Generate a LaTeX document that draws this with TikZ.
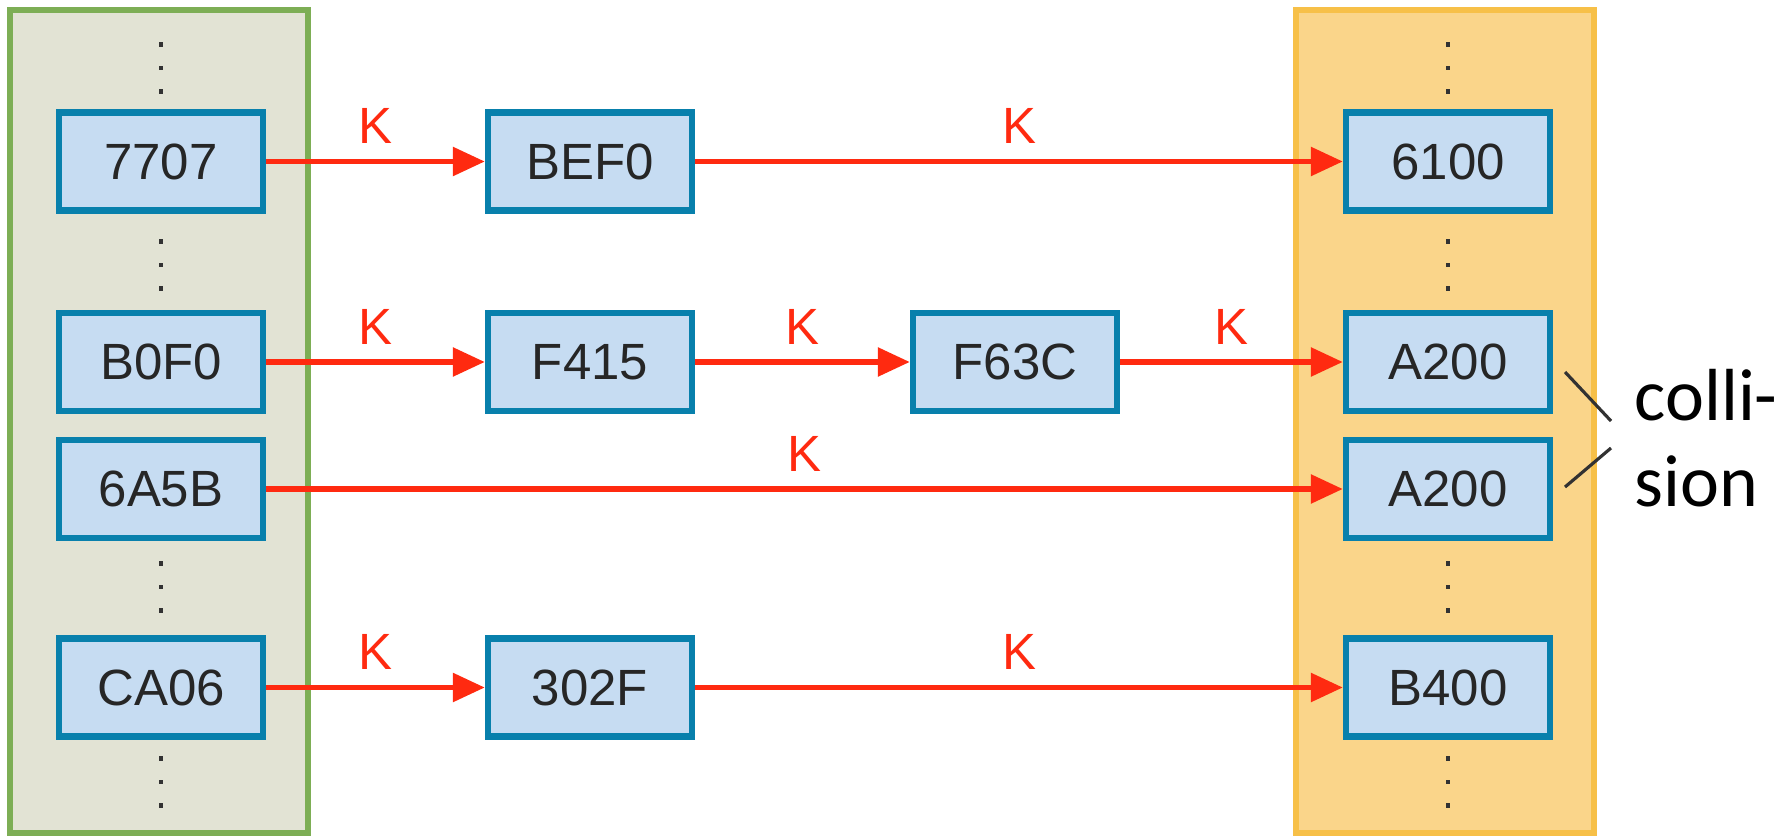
\documentclass[tikz,border=0pt]{standalone}
\usepackage{fontspec}
\setmainfont{Liberation Sans}
\newfontfamily\notefont{Carlito}
\usetikzlibrary{positioning, arrows.meta}
\definecolor{slotfill}{RGB}{198,220,242}
\definecolor{slotedge}{RGB}{8,128,172}
\definecolor{srcfill}{RGB}{226,227,212}
\definecolor{srcedge}{RGB}{125,174,85}
\definecolor{dstfill}{RGB}{250,213,138}
\definecolor{dstedge}{RGB}{247,192,72}
\definecolor{keyred}{RGB}{255,42,16}
\definecolor{dotc}{RGB}{50,50,50}

\begin{document}
\begin{tikzpicture}[
  slot/.style={draw=slotedge, line width=1.8pt, fill=slotfill, minimum width=2.04cm, minimum height=0.98cm, inner sep=0pt, text=black!85, font=\fontsize{14.5}{16}\selectfont},
  hop/.style={draw=keyred, line width=1.6pt, -{Triangle[length=0.32cm, width=0.28cm]}},
  klab/.style={text=keyred, font=\fontsize{14.5}{16}\selectfont, inner sep=0pt, above=0.15cm}]
\useasboundingbox (0,0) rectangle (17.91,8.37);
% the two tables
\draw[fill=srcfill, draw=srcedge, line width=1.6pt] (0.1,0.04) rectangle (3.08,8.27);
\draw[fill=dstfill, draw=dstedge, line width=1.6pt] (12.96,0.04) rectangle (15.94,8.27);
\foreach \x in {1.61,14.48}
  \foreach \y in {7.69,5.72,2.50,0.55}
    \foreach \d in {-0.235,0,0.235}
      \fill[dotc] (\x-0.022,\y+\d-0.022) rectangle ++(0.045,0.045);
% start points
\node[slot] (s7707) at (1.61,6.755) {7707};
\node[slot] (sB0F0) at (1.61,4.75) {B0F0};
\node[slot] (s6A5B) at (1.61,3.48) {6A5B};
\node[slot] (sCA06) at (1.61,1.495) {CA06};
% chains
\node[slot] (mBEF0) at (5.9,6.755) {BEF0};
\node[slot] (mF415) at (5.9,4.75) {F415};
\node[slot] (mF63C) at (10.15,4.75) {F63C};
\node[slot] (m302F) at (5.9,1.495) {302F};
% end points
\node[slot] (d6100) at (14.48,6.755) {6100};
\node[slot] (dA200a) at (14.48,4.75) {A200};
\node[slot] (dA200b) at (14.48,3.48) {A200};
\node[slot] (dB400) at (14.48,1.495) {B400};
\draw[hop] (s7707) -- node[klab] {K} (mBEF0);
\draw[hop] (mBEF0) -- node[klab] {K} (d6100);
\draw[hop] (sB0F0) -- node[klab] {K} (mF415);
\draw[hop] (mF415) -- node[klab] {K} (mF63C);
\draw[hop] (mF63C) -- node[klab] {K} (dA200a);
\draw[hop] (s6A5B) -- node[klab] {K} (dA200b);
\draw[hop] (sCA06) -- node[klab] {K} (m302F);
\draw[hop] (m302F) -- node[klab] {K} (dB400);
% collision mark
\coordinate (c1) at (15.65,4.65);
\coordinate (c2) at (16.11,4.16);
\coordinate (c3) at (15.65,3.50);
\coordinate (c4) at (16.11,3.89);
\draw[dotc, line width=0.9pt] (c1) -- (c2);
\draw[dotc, line width=0.9pt] (c3) -- (c4);
\node[font=\notefont\fontsize{21}{24.4}\selectfont, align=left, anchor=west, inner sep=0pt] (coll) at (16.34,3.99) {colli-\\sion};
\end{tikzpicture}
\end{document}
